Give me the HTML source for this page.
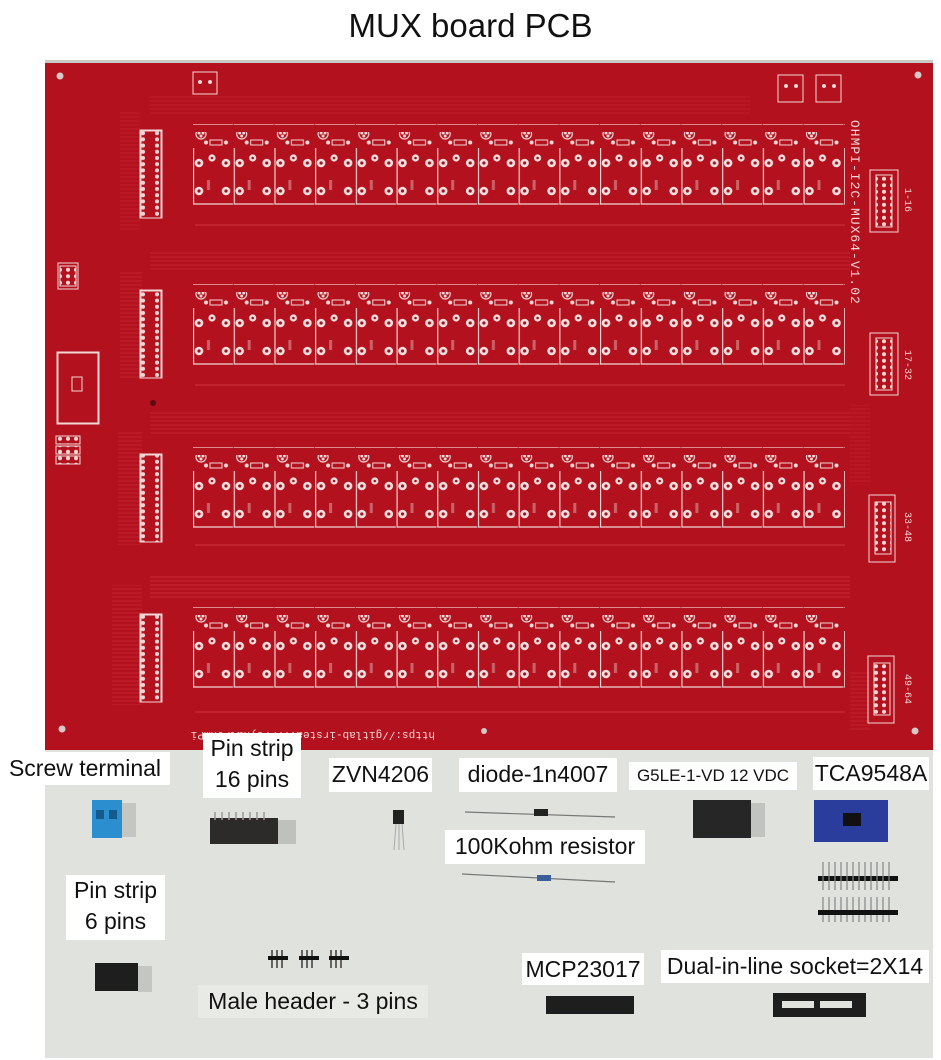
<!DOCTYPE html>
<html><head><meta charset="utf-8"><style>
html,body{margin:0;padding:0;background:#fff;width:941px;height:1060px;overflow:hidden;font-family:"Liberation Sans",sans-serif}
.t{position:absolute;left:0;top:0;width:941px;text-align:center;font-size:33px;line-height:52px;color:#111}
svg{position:absolute;left:0;top:0}
.l{position:absolute;background:#fff;color:#111;font-size:23px;line-height:32px;text-align:center;white-space:nowrap}
</style></head><body>
<div class="t">MUX board PCB</div>
<svg width="941" height="1060" viewBox="0 0 941 1060">
<defs>
<pattern id="cell" x="193" y="0" width="40.7" height="80" patternUnits="userSpaceOnUse">
 <circle cx="8" cy="2" r="5" fill="none" stroke="#f2d6d6" stroke-width="1.2"/>
 <circle cx="6" cy="1" r="1.5" fill="#f2d6d6"/><circle cx="10" cy="1" r="1.5" fill="#f2d6d6"/><circle cx="8" cy="4" r="1.5" fill="#f2d6d6"/>
 <rect x="17" y="8" width="12" height="5" fill="none" stroke="#f2d6d6" stroke-width="1"/>
 <circle cx="13" cy="10.5" r="2" fill="#f2d6d6"/><circle cx="33" cy="10.5" r="2" fill="#f2d6d6"/>
 <path d="M0.5 16 V72 H40" fill="none" stroke="#f2d6d6" stroke-width="1.3"/>
 <circle cx="6" cy="31" r="4.3" fill="#f4dede"/><circle cx="6" cy="31" r="1.6" fill="#9a1420"/>
 <circle cx="33" cy="31" r="4.3" fill="#f4dede"/><circle cx="33" cy="31" r="1.6" fill="#9a1420"/>
 <circle cx="19" cy="26" r="3.6" fill="#f4dede"/><circle cx="19" cy="26" r="1.3" fill="#9a1420"/>
 <circle cx="6" cy="59" r="4.3" fill="#f4dede"/><circle cx="6" cy="59" r="1.6" fill="#9a1420"/>
 <circle cx="33" cy="59" r="4.3" fill="#f4dede"/><circle cx="33" cy="59" r="1.6" fill="#9a1420"/>
 <rect x="14" y="48" width="3" height="10" fill="#d89a9a" opacity=".6"/>
</pattern>
<pattern id="dip" x="0" y="0" width="20" height="6.2" patternUnits="userSpaceOnUse">
 <circle cx="3" cy="3" r="2" fill="#f2d6d6"/><circle cx="17" cy="3" r="2" fill="#f2d6d6"/>
</pattern>
<pattern id="hdr" x="0" y="0" width="8" height="6.5" patternUnits="userSpaceOnUse">
 <circle cx="4" cy="3.2" r="2" fill="#f2d6d6"/>
</pattern>
<pattern id="tr" x="0" y="0" width="6" height="4" patternUnits="userSpaceOnUse">
 <line x1="0" y1="1" x2="6" y2="1" stroke="#d2323e" stroke-width="0.7"/>
</pattern>
</defs>
<rect x="45" y="748" width="888" height="310" fill="#dfe2dd"/>
<rect x="45" y="60" width="888" height="690" fill="#b3111d"/>
<rect x="45" y="60" width="888" height="3" fill="#c9c9c6"/>
<g>
 <rect x="150" y="250" width="700" height="22" fill="url(#tr)" opacity=".8"/>
 <rect x="150" y="412" width="700" height="22" fill="url(#tr)" opacity=".8"/>
 <rect x="150" y="575" width="700" height="24" fill="url(#tr)" opacity=".9"/>
 <rect x="150" y="95" width="600" height="20" fill="url(#tr)" opacity=".5"/>
 <rect x="120" y="110" width="20" height="120" fill="url(#tr)" opacity=".5"/>
 <rect x="120" y="270" width="22" height="110" fill="url(#tr)" opacity=".7"/>
 <rect x="118" y="430" width="24" height="115" fill="url(#tr)" opacity=".7"/>
 <rect x="112" y="585" width="30" height="120" fill="url(#tr)" opacity=".8"/>
 <rect x="850" y="405" width="20" height="80" fill="url(#tr)" opacity=".5"/>
 <rect x="850" y="670" width="20" height="60" fill="url(#tr)" opacity=".7"/>
 <path d="M195 225 H845 M195 385 H845 M195 545 H845 M195 712 H845" stroke="#d2323e" stroke-width="1" fill="none"/>
</g>
<g transform="translate(0,132)"><rect x="193" y="-8" width="652" height="82" fill="url(#cell)"/></g>
<g transform="translate(0,292)"><rect x="193" y="-8" width="652" height="82" fill="url(#cell)"/></g>
<g transform="translate(0,455)"><rect x="193" y="-8" width="652" height="82" fill="url(#cell)"/></g>
<g transform="translate(0,615)"><rect x="193" y="-8" width="652" height="82" fill="url(#cell)"/></g>
<g fill="none" stroke="#f2d6d6" stroke-width="1">
 <rect x="140" y="130" width="22" height="88"/><rect x="141" y="131" width="20" height="87" fill="url(#dip)"/>
 <rect x="140" y="290" width="22" height="88"/><rect x="141" y="291" width="20" height="87" fill="url(#dip)"/>
 <rect x="140" y="454" width="22" height="88"/><rect x="141" y="455" width="20" height="87" fill="url(#dip)"/>
 <rect x="140" y="614" width="22" height="88"/><rect x="141" y="615" width="20" height="87" fill="url(#dip)"/>
 <rect x="57" y="352" width="42" height="72"/><rect x="58" y="353" width="40" height="70"/>
 <rect x="72" y="377" width="10" height="14"/>
 <rect x="870" y="170" width="28" height="62"/><rect x="876" y="175" width="16" height="52" fill="url(#hdr)"/>
 <rect x="870" y="333" width="28" height="62"/><rect x="876" y="338" width="16" height="52" fill="url(#hdr)"/>
 <rect x="869" y="495" width="26" height="67"/><rect x="875" y="502" width="16" height="52" fill="url(#hdr)"/>
 <rect x="868" y="656" width="26" height="67"/><rect x="874" y="663" width="16" height="52" fill="url(#hdr)"/>
 <rect x="58" y="263" width="20" height="26"/><rect x="60" y="266" width="16" height="20" fill="url(#hdr)"/>
 <rect x="56" y="436" width="24" height="8" fill="url(#hdr)"/><rect x="56" y="446" width="24" height="8" fill="url(#hdr)"/><rect x="56" y="456" width="24" height="8" fill="url(#hdr)"/>
 <rect x="193" y="72" width="24" height="22"/><rect x="778" y="75" width="25" height="27"/><rect x="816" y="75" width="25" height="27"/>
</g>
<g fill="#f2d6d6">
 <circle cx="200" cy="82" r="2"/><circle cx="210" cy="82" r="2"/>
 <circle cx="786" cy="86" r="2"/><circle cx="796" cy="86" r="2"/>
 <circle cx="824" cy="86" r="2"/><circle cx="834" cy="86" r="2"/>
</g>
<g fill="#d8c8c8">
 <circle cx="60" cy="76" r="3.5"/><circle cx="918" cy="75" r="3.5"/>
 <circle cx="62" cy="729" r="3.5"/><circle cx="915" cy="731" r="3.5"/>
 <circle cx="484" cy="731" r="3"/><circle cx="153" cy="403" r="3" fill="#5a0a10"/>
</g>
<text transform="translate(851,120) rotate(90)" font-family="Liberation Mono,monospace" font-size="13" fill="#f2d6d6" letter-spacing="1">OHMPI-I2C-MUX64-V1.02</text>
<text transform="translate(905,188) rotate(90)" font-family="Liberation Mono,monospace" font-size="10" fill="#f2d6d6">1-16</text>
<text transform="translate(905,350) rotate(90)" font-family="Liberation Mono,monospace" font-size="10" fill="#f2d6d6">17-32</text>
<text transform="translate(905,512) rotate(90)" font-family="Liberation Mono,monospace" font-size="10" fill="#f2d6d6">33-48</text>
<text transform="translate(905,674) rotate(90)" font-family="Liberation Mono,monospace" font-size="10" fill="#f2d6d6">49-64</text>
<text transform="translate(435,732) rotate(180)" font-family="Liberation Mono,monospace" font-size="11" fill="#f2d6d6">https://gitlab-irstea.fr/reynal/OhmPi</text>
<rect x="92" y="800" width="30" height="38" fill="#2b8fcf"/><rect x="122" y="803" width="14" height="34" fill="#c3c6c2"/>
<rect x="96" y="810" width="8" height="9" fill="#145a8a"/><rect x="109" y="810" width="8" height="9" fill="#145a8a"/>
<rect x="210" y="818" width="68" height="26" fill="#2d2a2a"/><rect x="278" y="820" width="18" height="24" fill="#bfc1bd"/>
<g stroke="#999" stroke-width="1.5"><path d="M215 812v8M222 812v8M229 812v8M236 812v8M243 812v8M250 812v8M257 812v8M264 812v8"/></g>
<rect x="393" y="810" width="11" height="14" fill="#222"/>
<path d="M396 824l-2 26M399 824v26M402 824l2 26" stroke="#aaa" stroke-width="1"/>
<path d="M465 812 L615 817" stroke="#777" stroke-width="1.2"/><rect x="534" y="809" width="14" height="7" fill="#222"/>
<path d="M462 874 L615 882" stroke="#777" stroke-width="1.2"/><rect x="537" y="875" width="14" height="6" fill="#3c5f9a"/>
<rect x="693" y="800" width="58" height="38" fill="#262626"/><rect x="751" y="803" width="14" height="34" fill="#c0c3bf"/>
<rect x="814" y="800" width="74" height="42" fill="#2a3c9c"/><rect x="843" y="813" width="18" height="13" fill="#111"/>
<rect x="818" y="876" width="80" height="5" fill="#111"/>
<g stroke="#888" stroke-width="1.2"><path d="M823 862v28M829 862v28M835 862v28M841 862v28M847 862v28M853 862v28M859 862v28M865 862v28M871 862v28M877 862v28M883 862v28M889 862v28"/>
<path d="M823 897v25M829 897v25M835 897v25M841 897v25M847 897v25M853 897v25M859 897v25M865 897v25M871 897v25M877 897v25M883 897v25M889 897v25"/></g>
<rect x="818" y="910" width="80" height="5" fill="#111"/>
<rect x="95" y="963" width="43" height="28" fill="#1e1e1e"/><rect x="138" y="966" width="14" height="26" fill="#c3c6c2"/>
<g stroke="#222" stroke-width="1.3"><path d="M272 950v18M277 950v18M282 950v18M302 950v18M307 950v18M312 950v18M331 950v18M336 950v18M341 950v18"/></g>
<rect x="268" y="956" width="20" height="4" fill="#111"/><rect x="299" y="956" width="20" height="4" fill="#111"/><rect x="329" y="956" width="20" height="4" fill="#111"/>
<rect x="546" y="996" width="88" height="18" fill="#1e1e1e"/>
<rect x="773" y="993" width="93" height="24" fill="#1e1e1e"/><rect x="782" y="1001" width="32" height="7" fill="#dfe2dd"/><rect x="820" y="1001" width="32" height="7" fill="#dfe2dd"/>
</svg>
<div class="l" style="left:0;top:752px;width:170px;height:33px">Screw terminal</div>
<div class="l" style="left:203px;top:733px;width:98px;height:65px;line-height:31px">Pin strip<br>16 pins</div>
<div class="l" style="left:329px;top:758px;width:103px;height:34px">ZVN4206</div>
<div class="l" style="left:459px;top:758px;width:158px;height:34px">diode-1n4007</div>
<div class="l" style="left:629px;top:762px;width:168px;height:28px;font-size:17px;line-height:28px">G5LE-1-VD 12 VDC</div>
<div class="l" style="left:813px;top:757px;width:116px;height:33px">TCA9548A</div>
<div class="l" style="left:445px;top:830px;width:200px;height:34px">100Kohm resistor</div>
<div class="l" style="left:66px;top:875px;width:99px;height:65px;line-height:31px">Pin strip<br>6 pins</div>
<div class="l" style="left:198px;top:985px;width:230px;height:33px;background:#e8eae6">Male header - 3 pins</div>
<div class="l" style="left:522px;top:953px;width:122px;height:32px">MCP23017</div>
<div class="l" style="left:661px;top:950px;width:268px;height:33px">Dual-in-line socket=2X14</div>
</body></html>
